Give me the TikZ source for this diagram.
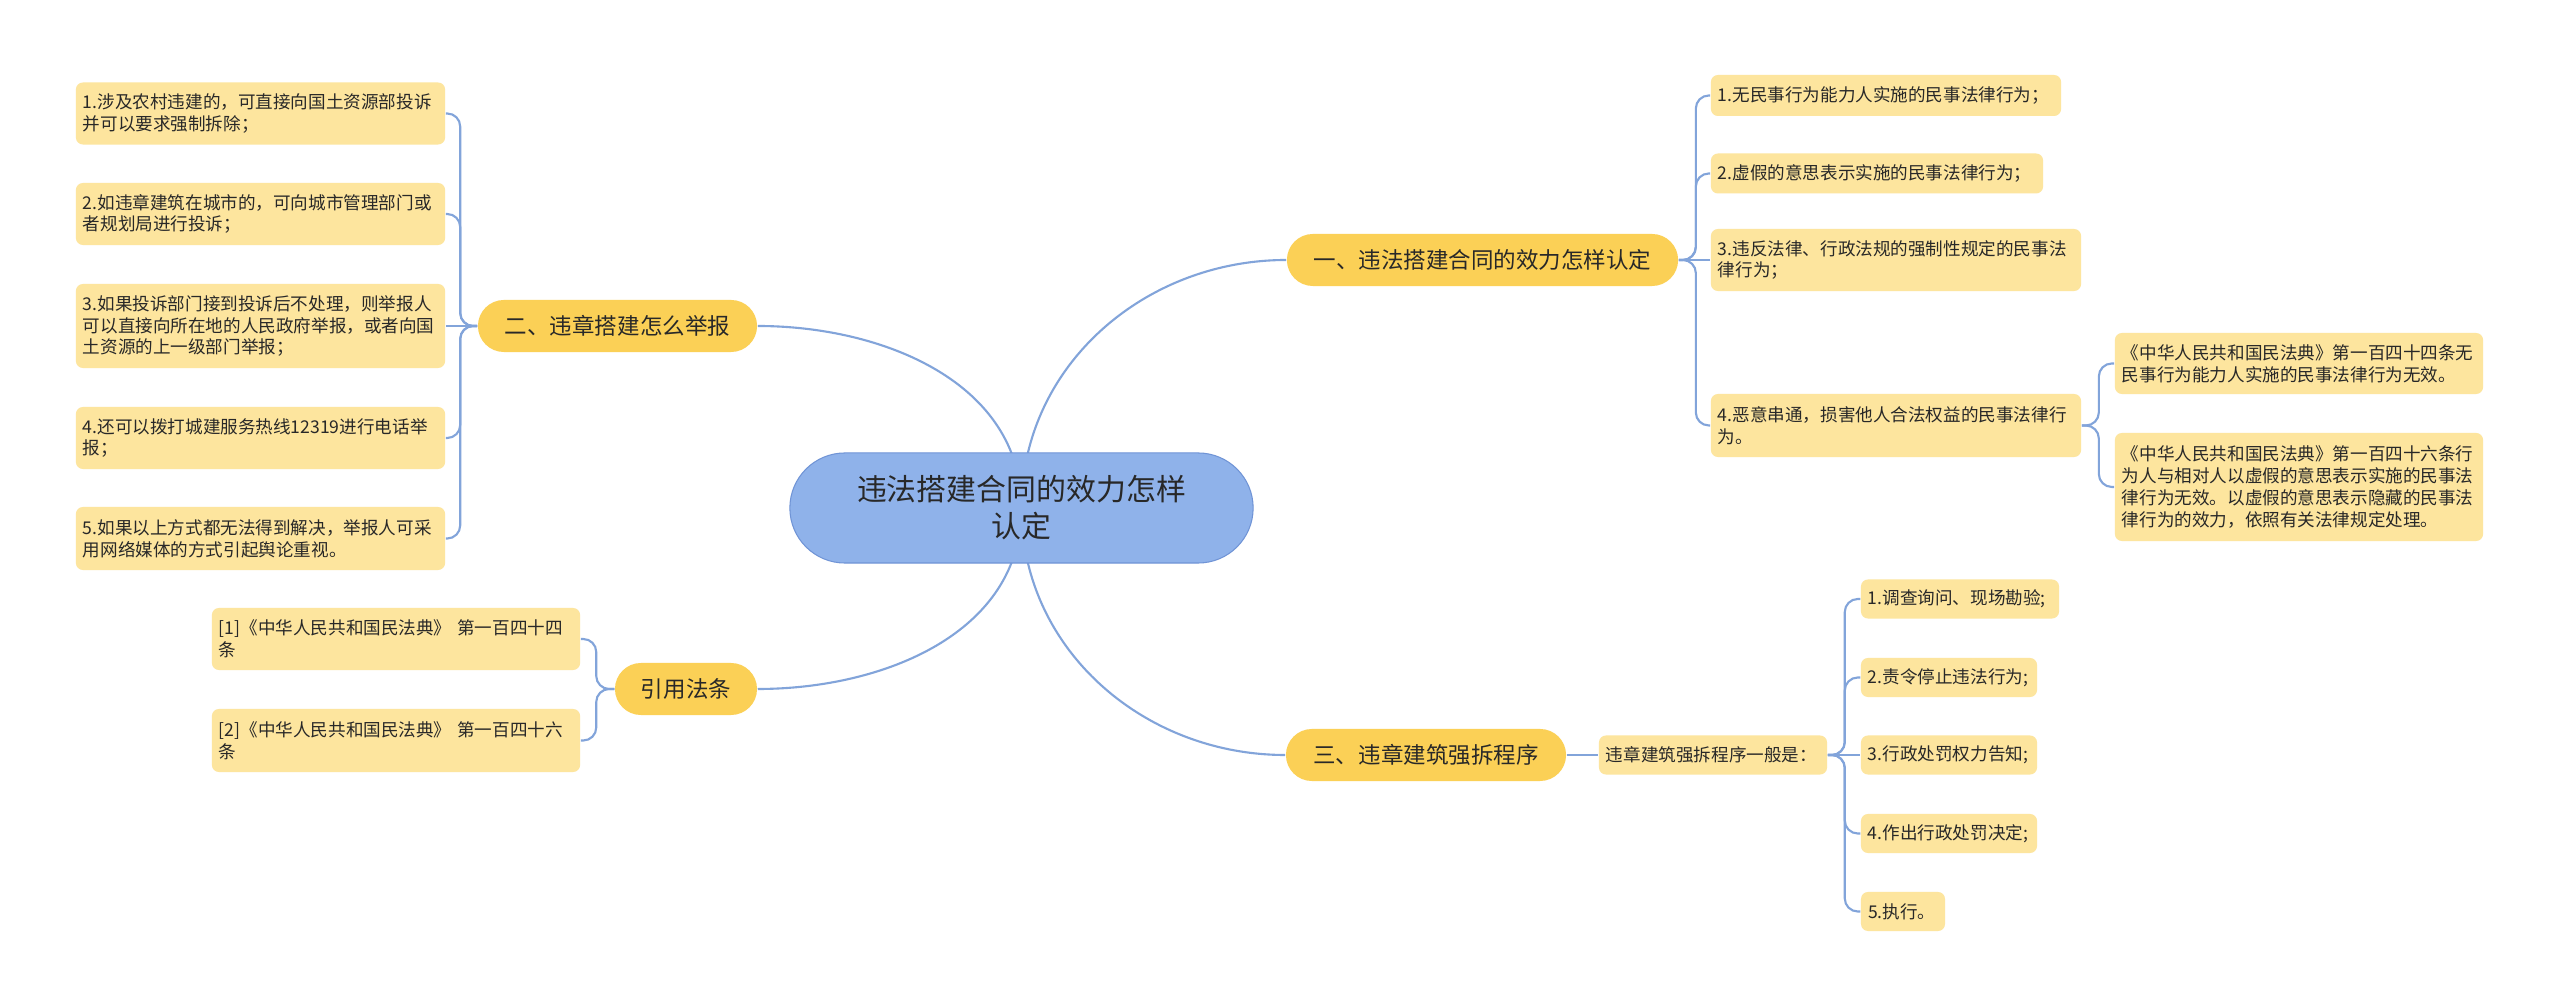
\documentclass[tikz,border=0pt]{standalone}
\usepackage{fontspec}
\setmainfont{Noto Sans CJK SC}
\usetikzlibrary{backgrounds}
\definecolor{leafyellow}{RGB}{253,229,158}
\definecolor{topicgold}{RGB}{251,208,86}
\definecolor{rootblue}{RGB}{143,178,234}
\definecolor{rootedge}{RGB}{112,148,214}
\definecolor{linkblue}{RGB}{130,164,218}
\definecolor{inkgray}{RGB}{40,40,40}

\begin{document}
\begin{tikzpicture}[x=0.01cm,y=-0.01cm,
    leaf/.style={fill=leafyellow,rounded corners=2pt,inner xsep=0.07cm,inner ysep=0.02cm,
      align=left,text=inkgray,font=\fontsize{5pt}{6.2pt}\selectfont},
    topic/.style={fill=topicgold,rounded corners=0.26cm,inner xsep=0pt,minimum height=0.52cm,
      text=inkgray,font=\fontsize{6.4pt}{7.6pt}\selectfont},
    root/.style={fill=rootblue,draw=rootedge,line width=0.3pt,rounded corners=0.55cm,
      minimum width=4.63cm,minimum height=1.1cm,align=center,text=inkgray,
      font=\fontsize{8.5pt}{10.5pt}\selectfont},
    link/.style={draw=linkblue,line width=0.6pt},
    fork/.style={link,rounded corners=0.13cm}]
\useasboundingbox (0,0) rectangle (2560,1007);

% centre and main topics
\node[root] (ctr) at (1021.5,508) {违法搭建合同的效力怎样\\认定};
\node[topic,minimum width=3.91cm] (b1) at (1482.5,260) {一、违法搭建合同的效力怎样认定};
\node[topic,minimum width=2.79cm] (b2) at (617.5,326) {二、违章搭建怎么举报};
\node[topic,minimum width=2.80cm] (b3) at (1426,755) {三、违章建筑强拆程序};
\node[topic,minimum width=1.42cm] (b4) at (686,689) {引用法条};

% 二
\node[leaf,text width=3.55cm,minimum height=0.62cm] (a1) at (260.5,113.5) {1.涉及农村违建的，可直接向国土资源部投诉\\并可以要求强制拆除；};
\node[leaf,text width=3.55cm,minimum height=0.62cm] (a2) at (260.5,214) {2.如违章建筑在城市的，可向城市管理部门或\\者规划局进行投诉；};
\node[leaf,text width=3.55cm,minimum height=0.84cm] (a3) at (260.5,326) {3.如果投诉部门接到投诉后不处理，则举报人\\可以直接向所在地的人民政府举报，或者向国\\土资源的上一级部门举报；};
\node[leaf,text width=3.55cm,minimum height=0.62cm] (a4) at (260.5,438) {4.还可以拨打城建服务热线12319进行电话举\\报；};
\node[leaf,text width=3.55cm,minimum height=0.63cm] (a5) at (260.5,538.5) {5.如果以上方式都无法得到解决，举报人可采\\用网络媒体的方式引起舆论重视。};

% 引用法条
\node[leaf,text width=3.54cm,minimum height=0.62cm] (r1) at (396,639) {[1]《中华人民共和国民法典》 第一百四十四\\条};
\node[leaf,text width=3.54cm,minimum height=0.63cm] (r2) at (396,740.5) {[2]《中华人民共和国民法典》 第一百四十六\\条};

% 一
\node[leaf,text width=3.36cm,minimum height=0.41cm] (c1) at (1886,95.5) {1.无民事行为能力人实施的民事法律行为；};
\node[leaf,text width=3.18cm,minimum height=0.40cm] (c2) at (1877,173.5) {2.虚假的意思表示实施的民事法律行为；};
\node[leaf,text width=3.56cm,minimum height=0.62cm] (c3) at (1896,260) {3.违反法律、行政法规的强制性规定的民事法\\律行为；};
\node[leaf,text width=3.56cm,minimum height=0.63cm] (c4) at (1896,425.5) {4.恶意串通，损害他人合法权益的民事法律行\\为。};
\node[leaf,text width=3.54cm,minimum height=0.61cm] (d1) at (2299,363.5) {《中华人民共和国民法典》第一百四十四条无\\民事行为能力人实施的民事法律行为无效。};
\node[leaf,text width=3.54cm,minimum height=1.08cm] (d2) at (2299,487) {《中华人民共和国民法典》第一百四十六条行\\为人与相对人以虚假的意思表示实施的民事法\\律行为无效。以虚假的意思表示隐藏的民事法\\律行为的效力，依照有关法律规定处理。};

% 三
\node[leaf,text width=2.14cm,minimum height=0.39cm] (e0) at (1713,755) {违章建筑强拆程序一般是：};
\node[leaf,text width=1.84cm,minimum height=0.39cm] (f1) at (1960,599) {1.调查询问、现场勘验;};
\node[leaf,text width=1.62cm,minimum height=0.39cm] (f2) at (1949,677.5) {2.责令停止违法行为;};
\node[leaf,text width=1.62cm,minimum height=0.39cm] (f3) at (1949,755) {3.行政处罚权力告知;};
\node[leaf,text width=1.62cm,minimum height=0.39cm] (f4) at (1949,833.5) {4.作出行政处罚决定;};
\node[leaf,text width=0.70cm,minimum height=0.39cm] (f5) at (1903,911.5) {5.执行。};

\begin{scope}[on background layer]
  \fill[white] (0,0) rectangle (2560,1007);
  % branches from the centre
  \draw[link] (ctr.center) to[out=90,in=180] (b1.west);
  \draw[link] (ctr.center) to[out=90,in=0] (b2.east);
  \draw[link] (ctr.center) to[out=-90,in=180] (b3.west);
  \draw[link] (ctr.center) to[out=-90,in=0] (b4.east);
  % 二
  \draw[fork] (b2.west) -- ++(-17,0) |- (a1.east);
  \draw[fork] (b2.west) -- ++(-17,0) |- (a2.east);
  \draw[link] (b2.west) -- (a3.east);
  \draw[fork] (b2.west) -- ++(-17,0) |- (a4.east);
  \draw[fork] (b2.west) -- ++(-17,0) |- (a5.east);
  % 引用法条
  \draw[fork] (b4.west) -- ++(-18,0) |- (r1.east);
  \draw[fork] (b4.west) -- ++(-18,0) |- (r2.east);
  % 一
  \draw[fork] (b1.east) -- ++(17,0) |- (c1.west);
  \draw[fork] (b1.east) -- ++(17,0) |- (c2.west);
  \draw[link] (b1.east) -- (c3.west);
  \draw[fork] (b1.east) -- ++(17,0) |- (c4.west);
  \draw[fork] (c4.east) -- ++(17,0) |- (d1.west);
  \draw[fork] (c4.east) -- ++(17,0) |- (d2.west);
  % 三
  \draw[link] (b3.east) -- (e0.west);
  \draw[fork] (e0.east) -- ++(17,0) |- (f1.west);
  \draw[fork] (e0.east) -- ++(17,0) |- (f2.west);
  \draw[link] (e0.east) -- (f3.west);
  \draw[fork] (e0.east) -- ++(17,0) |- (f4.west);
  \draw[fork] (e0.east) -- ++(17,0) |- (f5.west);
\end{scope}
\end{tikzpicture}
\end{document}
